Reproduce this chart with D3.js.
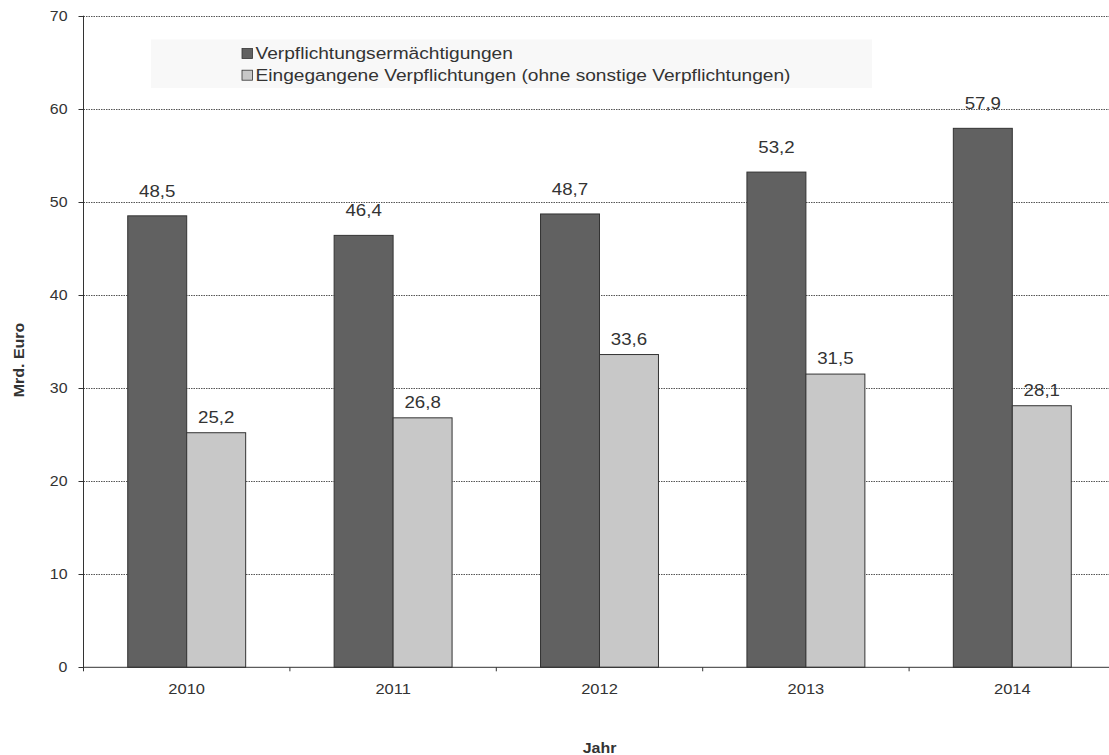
<!DOCTYPE html>
<html><head><meta charset="utf-8">
<script src="https://cdn.jsdelivr.net/npm/d3@7"></script>
<style>
html,body{margin:0;padding:0;background:#fff;}
svg{display:block;}
text{font-family:"Liberation Sans",Arial,sans-serif;fill:#333;}
</style></head>
<body>
<svg id="chart" width="1109" height="755"></svg>
<script>
const years = ["2010","2011","2012","2013","2014"];
const seriesNames = ["Verpflichtungsermächtigungen","Eingegangene Verpflichtungen (ohne sonstige Verpflichtungen)"];
const authorisations = [48.5, 46.4, 48.7, 53.2, 57.9];
const commitments = [25.2, 26.8, 33.6, 31.5, 28.1];
const yTicks = [0,10,20,30,40,50,60,70];
const colors = ["#616161","#c8c8c8"];
const yTitle = "Mrd. Euro";
const xTitle = "Jahr";

(function(){
const svg = d3.select("#chart");
const SX = 1.1;
const pLeft = 83.5, pTop = 15.7, pBottom = 667.3, plotW = 1032;
const labelGap = [19, 10];

const x0 = d3.scaleBand().domain(years).range([pLeft, pLeft+plotW]).paddingInner(0).paddingOuter(0);
const x1 = d3.scaleBand().domain([0,1]).range([0, x0.bandwidth()]).paddingInner(0).paddingOuter(0.75);
const y = d3.scaleLinear().domain([0,70]).range([pBottom, pTop]);

function txt(g, x, yy, s, size, anchor, weight, rot){
  const t = g.append("text")
    .attr("transform", `translate(${x},${yy})` + (rot?` rotate(${rot})`:"") + ` scale(${SX},1)`)
    .attr("text-anchor", anchor||"middle")
    .style("font-size", size+"px")
    .text(s);
  if (weight) t.style("font-weight", weight);
  return t;
}

// legend background
svg.append("rect").attr("x",151).attr("y",39.5).attr("width",721).attr("height",48.5).attr("fill","#f8f8f8");

// gridlines
svg.append("g").selectAll("line").data(yTicks.filter(d=>d>0)).join("line")
  .attr("x1", pLeft).attr("x2", pLeft+plotW)
  .attr("y1", d=>Math.round(y(d))+0.5).attr("y2", d=>Math.round(y(d))+0.5)
  .attr("stroke","#555").attr("stroke-width",1).attr("stroke-dasharray","1.5,1");

// bars
const data = years.map((yr,i)=>({yr, vals:[authorisations[i], commitments[i]]}));
const groups = svg.append("g").selectAll("g").data(data).join("g")
  .attr("transform", d=>`translate(${x0(d.yr)},0)`);
groups.selectAll("rect").data(d=>d.vals.map((v,k)=>({v,k}))).join("rect")
  .attr("x", d=>x1(d.k)).attr("width", x1.bandwidth())
  .attr("y", d=>y(d.v)).attr("height", d=>y(0)-y(d.v))
  .attr("fill", d=>colors[d.k]).attr("stroke","#333").attr("stroke-width",1);

// value labels
groups.each(function(d){
  const g = d3.select(this);
  d.vals.forEach((v,k)=>{
    txt(g, x1(k)+x1.bandwidth()/2, y(v)-labelGap[k], String(v).replace(".",","), 17, "middle");
  });
});

// axes
const axG = svg.append("g");
axG.append("line").attr("x1",pLeft).attr("x2",pLeft).attr("y1",pTop).attr("y2",pBottom+4).attr("stroke","#333");
axG.append("line").attr("x1",pLeft).attr("x2",pLeft+plotW).attr("y1",pBottom).attr("y2",pBottom).attr("stroke","#333");
axG.selectAll(".yt").data(yTicks).join("line").attr("class","yt")
  .attr("x1",pLeft-5).attr("x2",pLeft).attr("y1",d=>Math.round(y(d))+0.5).attr("y2",d=>Math.round(y(d))+0.5).attr("stroke","#333");
axG.selectAll(".xt").data(years.slice(1)).join("line").attr("class","xt")
  .attr("x1",d=>x0(d)).attr("x2",d=>x0(d)).attr("y1",pBottom).attr("y2",pBottom+4).attr("stroke","#333");
yTicks.forEach(t=>txt(svg, 67.5, y(t)+5, String(t), 14.5, "end"));
years.forEach(yr=>txt(svg, x0(yr)+x0.bandwidth()/2, 694, yr, 15, "middle"));

// titles
txt(svg, pLeft+plotW/2, 753, xTitle, 14.5, "middle", "bold");
txt(svg, 23.5, 360, yTitle, 14.5, "middle", "bold", -90);

// legend
seriesNames.forEach((s,i)=>{
  const yy = 48.5 + i*21.7;
  svg.append("rect").attr("x",242).attr("y",yy).attr("width",10.5).attr("height",10)
    .attr("fill",colors[i]).attr("stroke","#333").attr("stroke-width",0.8);
  txt(svg, 255.5, yy+10.8, s, 17.4, "start");
});
})();
</script>
</body></html>
